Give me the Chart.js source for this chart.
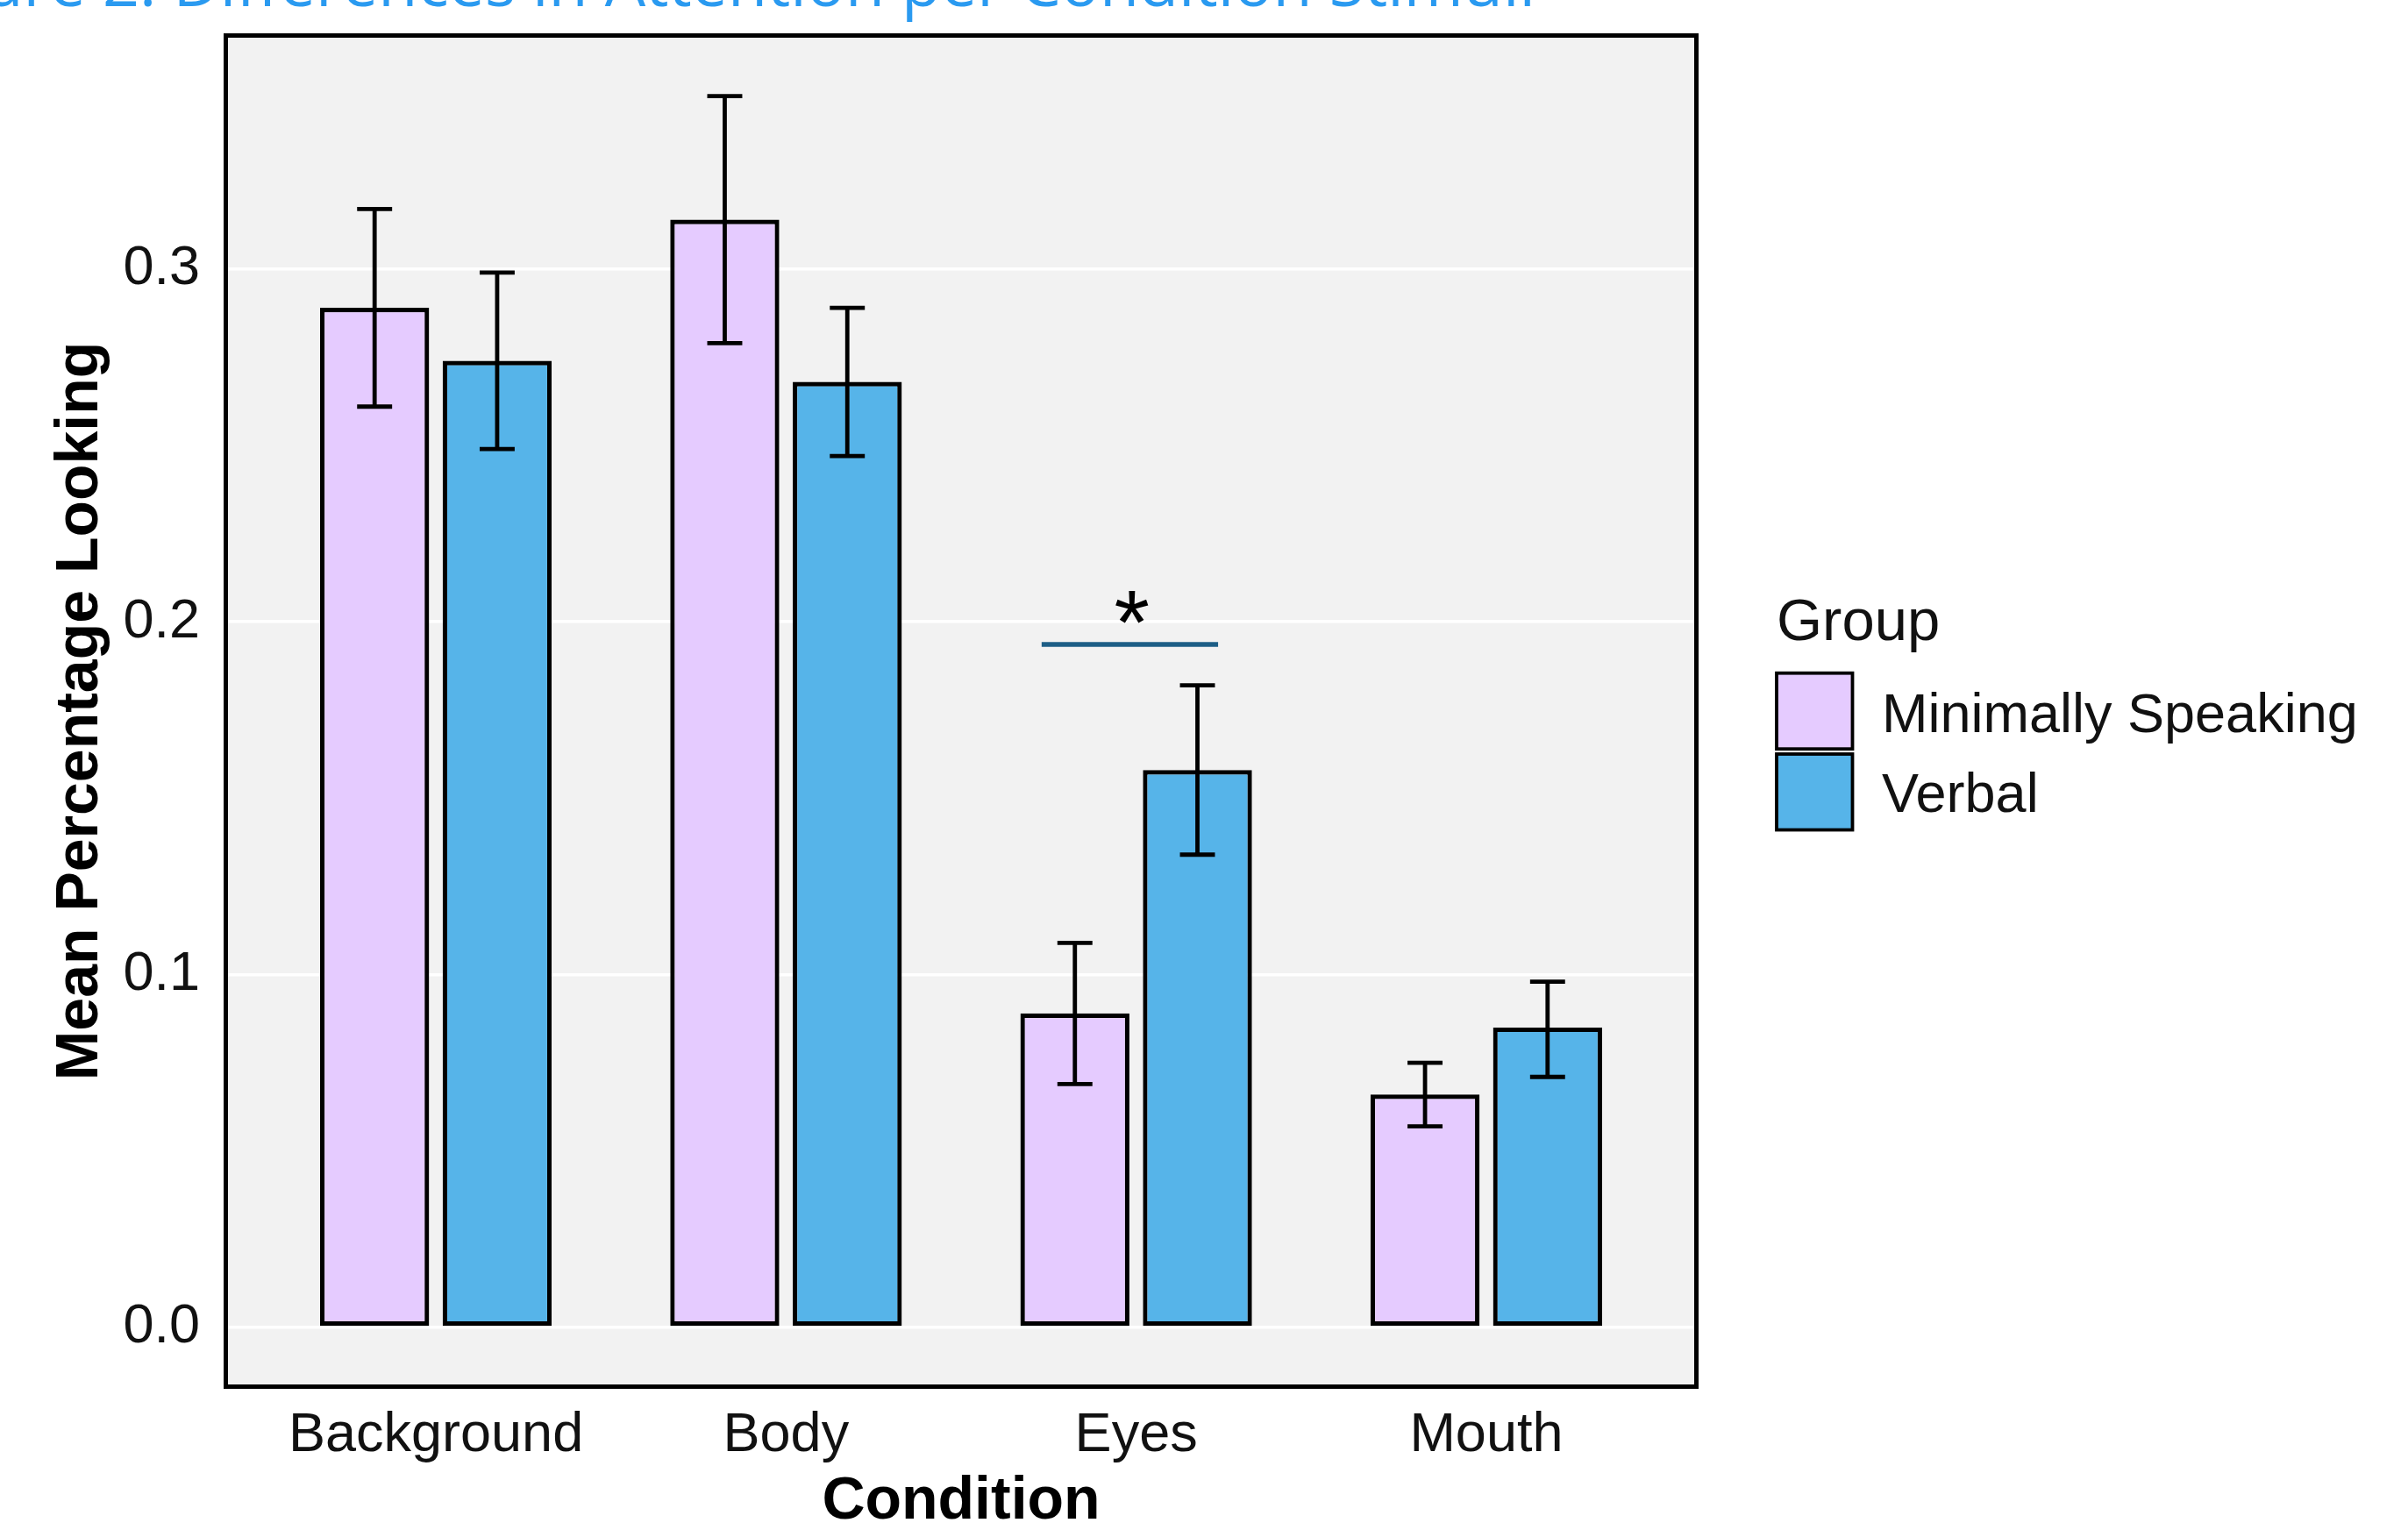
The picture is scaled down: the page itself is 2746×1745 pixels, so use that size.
<!DOCTYPE html>
<html>
<head>
<meta charset="utf-8">
<title>Differences in Attention per Condition Stimuli</title>
<script src="https://cdn.jsdelivr.net/npm/chart.js@4.4.1/dist/chart.umd.min.js"></script>
<style>
    html, body { margin: 0; padding: 0; background: #ffffff; overflow: hidden; }
    #wrap { position: relative; width: 2746px; height: 1745px; }
</style>
</head>
<body>
<div id="wrap"><canvas id="chart" width="2746" height="1745"></canvas></div>
<script>
// Chart values
const conditions = ['Background', 'Body', 'Eyes', 'Mouth'];
const groupNames = ['Minimally Speaking', 'Verbal'];

const minimalMean = [0.289, 0.314, 0.089, 0.066];
const minimalLow = [0.261, 0.279, 0.069, 0.057];
const minimalHigh = [0.317, 0.349, 0.109, 0.075];

const verbalMean = [0.274, 0.268, 0.158, 0.085];
const verbalLow = [0.249, 0.247, 0.134, 0.071];
const verbalHigh = [0.299, 0.289, 0.182, 0.098];

const yTickValues = [0, 0.1, 0.2, 0.3];
const yTickLabels = ['0.0', '0.1', '0.2', '0.3'];

const headingText = 'Figure 2. Differences in Attention per Condition Stimuli';
const legendTitle = 'Group';

const COLORS = {
    minimal: '#E5CBFF',
    verbal: '#56B4E9',
    panel: '#F2F2F2',
    grid: '#FFFFFF',
    ink: '#000000',
    text: '#111111',
    heading: '#2A9AF0',
    signif: '#1D5E86'
};

const FONT = "'Liberation Sans', Arial, Helvetica, sans-serif";
Chart.defaults.font.family = FONT;

const toPoints = values => values.map((v, i) => ({ x: i + 1, y: v }));

/**
 * Grey panel behind the bars and black frame round it
 */
const panelPlugin = {
    id: 'panel',
    beforeDraw(chart) {
        const { ctx, chartArea: a } = chart;
        ctx.save();
        ctx.fillStyle = COLORS.panel;
        ctx.fillRect(a.left, a.top, a.width, a.height);
        ctx.restore();
    },
    afterDraw(chart) {
        const { ctx, chartArea: a } = chart;
        ctx.save();
        ctx.strokeStyle = COLORS.ink;
        ctx.lineWidth = 5;
        ctx.strokeRect(a.left, a.top, a.width, a.height);
        ctx.restore();
    }
};

/**
 * Error bars from errLow / errHigh of each dataset
 */
const errorBarPlugin = {
    id: 'errorBars',
    afterDatasetsDraw(chart) {
        const { ctx } = chart;
        const xs = chart.scales.x;
        const ys = chart.scales.y;
        const capHalf = (xs.getPixelForValue(1.05) - xs.getPixelForValue(1));

        ctx.save();
        ctx.strokeStyle = COLORS.ink;
        ctx.lineWidth = 4.8;
        chart.data.datasets.forEach((ds, i) => {
            const meta = chart.getDatasetMeta(i);
            meta.data.forEach((bar, j) => {
                const top = ys.getPixelForValue(ds.errHigh[j]);
                const bottom = ys.getPixelForValue(ds.errLow[j]);
                ctx.beginPath();
                ctx.moveTo(bar.x, top);
                ctx.lineTo(bar.x, bottom);
                ctx.moveTo(bar.x - capHalf, top);
                ctx.lineTo(bar.x + capHalf, top);
                ctx.moveTo(bar.x - capHalf, bottom);
                ctx.lineTo(bar.x + capHalf, bottom);
                ctx.stroke();
            });
        });
        ctx.restore();
    }
};

/**
 * Significance bracket over Eyes
 */
const signifPlugin = {
    id: 'signif',
    afterDatasetsDraw(chart) {
        const { ctx } = chart;
        const xs = chart.scales.x;
        const ys = chart.scales.y;
        const y = ys.getPixelForValue(0.1936);

        ctx.save();
        ctx.strokeStyle = COLORS.signif;
        ctx.lineWidth = 5.5;
        ctx.beginPath();
        ctx.moveTo(xs.getPixelForValue(2.73), y);
        ctx.lineTo(xs.getPixelForValue(3.234), y);
        ctx.stroke();

        ctx.fillStyle = COLORS.ink;
        ctx.font = '104px ' + FONT;
        ctx.textAlign = 'center';
        ctx.textBaseline = 'alphabetic';
        const m = ctx.measureText('*');
        const cy = ys.getPixelForValue(0.2041);
        ctx.fillText('*', xs.getPixelForValue(2.988), cy + (m.actualBoundingBoxAscent - m.actualBoundingBoxDescent) / 2);
        ctx.restore();
    }
};

/**
 * Legend in ggplot style, at the right of the panel
 */
const legendPlugin = {
    id: 'groupLegend',
    afterDraw(chart) {
        const { ctx } = chart;
        const left = 2026;
        const keySize = 86.5;
        const keyTops = [767.7, 860];
        const baselines = [835, 926];

        ctx.save();
        ctx.fillStyle = COLORS.text;
        ctx.font = '67px ' + FONT;
        ctx.textAlign = 'left';
        ctx.textBaseline = 'alphabetic';
        ctx.fillText(legendTitle, left, 730);

        chart.data.datasets.forEach((ds, i) => {
            ctx.fillStyle = ds.backgroundColor;
            ctx.fillRect(left, keyTops[i], keySize, keySize);
            ctx.strokeStyle = COLORS.ink;
            ctx.lineWidth = 3.8;
            ctx.strokeRect(left, keyTops[i], keySize, keySize);

            ctx.fillStyle = COLORS.text;
            ctx.font = '63px ' + FONT;
            ctx.fillText(ds.label, 2146, baselines[i]);
        });
        ctx.restore();
    }
};

/**
 * Caption, cut by the top edge of the picture
 */
const headingPlugin = {
    id: 'heading',
    afterDraw(chart) {
        const { ctx } = chart;
        const tail = headingText.slice(headingText.indexOf('Differences'));
        ctx.save();
        ctx.font = "70px 'Open Sans', " + FONT;
        const size = 70 * 1553 / ctx.measureText(tail).width;
        ctx.font = size.toFixed(1) + "px 'Open Sans', " + FONT;
        ctx.fillStyle = COLORS.heading;
        ctx.textAlign = 'right';
        ctx.textBaseline = 'alphabetic';
        ctx.fillText(headingText, 1751, 7);
        ctx.restore();
    }
};

const barStyle = {
    borderColor: COLORS.ink,
    borderWidth: 5.2,
    borderSkipped: false,
    categoryPercentage: 0.7,
    barPercentage: 0.89
};

new Chart(document.getElementById('chart'), {
    type: 'bar',
    data: {
        datasets: [
            {
                label: groupNames[0],
                data: toPoints(minimalMean),
                errLow: minimalLow,
                errHigh: minimalHigh,
                backgroundColor: COLORS.minimal,
                ...barStyle
            },
            {
                label: groupNames[1],
                data: toPoints(verbalMean),
                errLow: verbalLow,
                errHigh: verbalHigh,
                backgroundColor: COLORS.verbal,
                ...barStyle
            }
        ]
    },
    options: {
        responsive: false,
        animation: false,
        layout: {
            padding: { top: 40.5, right: 811.5, bottom: 0, left: 0 }
        },
        plugins: {
            legend: { display: false },
            tooltip: { enabled: false }
        },
        scales: {
            x: {
                type: 'linear',
                min: 0.4,
                max: 4.6,
                offset: false,
                grid: { display: false },
                border: { display: false },
                afterBuildTicks: scale => {
                    scale.ticks = conditions.map((c, i) => ({ value: i + 1 }));
                },
                afterFit: scale => {
                    scale.height = 163.5;
                    scale.paddingLeft = 0;
                    scale.paddingRight = 0;
                },
                ticks: {
                    autoSkip: false,
                    maxRotation: 0,
                    padding: 10,
                    color: COLORS.text,
                    font: { size: 63 },
                    callback: value => conditions[value - 1]
                },
                title: {
                    display: true,
                    text: 'Condition',
                    color: COLORS.ink,
                    font: { size: 68, weight: 'bold' },
                    padding: { top: 0, bottom: -9 }
                }
            },
            y: {
                min: -0.0168,
                max: 0.3662,
                afterBuildTicks: scale => {
                    scale.ticks = yTickValues.map(v => ({ value: v }));
                },
                afterFit: scale => {
                    scale.width = 257.5;
                    scale.paddingTop = 0;
                    scale.paddingBottom = 0;
                },
                grid: {
                    color: COLORS.grid,
                    lineWidth: 3.5,
                    drawTicks: false
                },
                border: { display: false },
                ticks: {
                    padding: 29.5,
                    color: COLORS.text,
                    font: { size: 63 },
                    callback: (value, index) => yTickLabels[index]
                },
                title: {
                    display: true,
                    text: 'Mean Percentage Looking',
                    color: COLORS.ink,
                    font: { size: 68, weight: 'bold' },
                    padding: { top: 51, bottom: 0 }
                }
            }
        }
    },
    plugins: [panelPlugin, errorBarPlugin, signifPlugin, legendPlugin, headingPlugin]
});
</script>
</body>
</html>
